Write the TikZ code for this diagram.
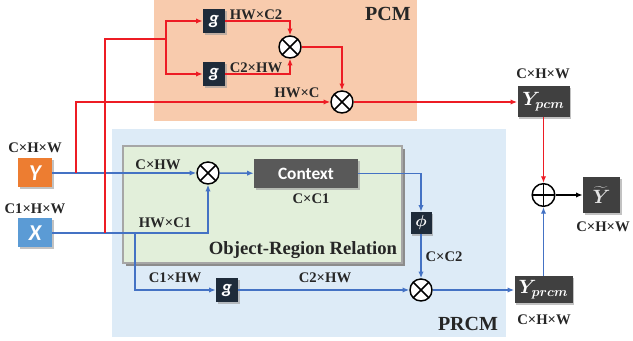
\documentclass[tikz,border=0pt]{standalone}
\usepackage{fontspec}
\setmainfont{Liberation Serif}
\newfontfamily\calib{Carlito}
\usepackage{bm}
\usetikzlibrary{arrows.meta,shadows,calc}
\definecolor{pcmfill}{HTML}{F8CBAD}
\definecolor{prcmfill}{HTML}{DDEBF7}
\definecolor{orrfill}{HTML}{E2EFDA}
\definecolor{orrdraw}{HTML}{A6A6A6}
\definecolor{redc}{HTML}{ED1C24}
\definecolor{bluec}{HTML}{4472C4}
\definecolor{yorange}{HTML}{ED7D31}
\definecolor{xblue}{HTML}{5B9BD5}
\definecolor{gfill}{HTML}{1E2B3A}
\definecolor{ctxfill}{HTML}{595959}
\definecolor{yfill}{HTML}{404040}
\begin{document}
\begin{tikzpicture}[x=0.75pt,y=-0.75pt,
  lbl/.style={font=\fontsize{11}{12}\selectfont\bfseries, inner sep=0pt, text=black!85},
  biglbl/.style={font=\fontsize{15}{16}\selectfont\bfseries, inner sep=0pt, text=black!85},
  conn/.style={line width=1.2pt, -{Latex[length=5pt,width=4pt]}},
  redarr/.style={conn, draw=redc},
  bluearr/.style={conn, draw=bluec},
  redline/.style={line width=1.2pt, draw=redc},
  shad/.style={drop shadow={shadow xshift=1.2pt,shadow yshift=-1.2pt,fill=black!40,opacity=0.6}},
  mul/.style={circle, draw=black, line width=1.1pt, fill=white, minimum size=16.5pt, inner sep=0pt,
    path picture={\draw[line width=1.1pt] (path picture bounding box.north west) -- (path picture bounding box.south east)
      (path picture bounding box.north east) -- (path picture bounding box.south west);}},
  addc/.style={circle, draw=black, line width=1.1pt, fill=white, minimum size=17pt, inner sep=0pt,
    path picture={\draw[line width=1.1pt] (path picture bounding box.north) -- (path picture bounding box.south)
      (path picture bounding box.east) -- (path picture bounding box.west);}},
  gbox/.style={rectangle, shad, fill=gfill, minimum width=16.5pt, minimum height=18pt, inner sep=0pt, text=white,
    font=\calib\bfseries\itshape\fontsize{14}{14}\selectfont},
  inbox/.style={rectangle, shad, minimum width=25.5pt, minimum height=21.75pt, inner sep=0pt, text=white,
    font=\calib\bfseries\itshape\fontsize{17}{17}\selectfont},
  ybox/.style={rectangle, shad, fill=yfill, inner sep=0pt, text=white, font=\fontsize{14}{16}\selectfont\boldmath},
  region/.style={rectangle, inner sep=0pt, draw=none}
]
\useasboundingbox (0,0) rectangle (633,341);
% regions
\node[region, fill=pcmfill, minimum width=197.25pt, minimum height=90.75pt] (pcm) at (285.5,60.5) {};
\node[region, fill=prcmfill, minimum width=295.5pt, minimum height=156pt] (prcm) at (309,233) {};
\fill[black!45] (126,149) rectangle (405,266);
\node[rectangle, fill=orrfill, draw=orrdraw, line width=1.5pt, minimum width=209.25pt, minimum height=87.75pt, inner sep=0pt] (orr) at (262.5,204.5) {};
\node[biglbl] (pcmlbl) at (388,14) {PCM};
\node[biglbl] (prcmlbl) at (468,324) {PRCM};
\node[font=\fontsize{14}{15}\selectfont\bfseries, inner sep=0pt, text=black!85] (orrlbl) at (303,250) {Object-Region Relation};
% nodes
\node[gbox] (g1) at (214,21) {g};
\node[gbox] (g2) at (214,74) {g};
\node[mul] (m1) at (290,47) {};
\node[mul] (m2) at (342,102) {};
\node[ybox, minimum width=39pt, minimum height=23.25pt] (Ypcm) at (543.5,101.5) {$Y_{pcm}$};
\node[inbox, fill=yorange] (Y) at (35,173) {Y};
\node[inbox, fill=xblue] (X) at (35,233) {X};
\node[mul] (m3) at (208,173) {};
\node[rectangle, shad, fill=ctxfill, minimum width=78pt, minimum height=21.75pt, inner sep=0pt, text=white,
  font=\calib\bfseries\fontsize{13}{13}\selectfont] (ctx) at (306,173.5) {Context};
\node[gbox, minimum width=15.75pt, minimum height=16.5pt, font=\fontsize{12}{12}\selectfont] (phi) at (421,223) {$\bm{\phi}$};
\node[gbox] (g3) at (227,290) {g};
\node[mul] (m4) at (421,290) {};
\node[ybox, minimum width=43.5pt, minimum height=20.25pt] (Yprcm) at (543.5,289.5) {$Y_{prcm}$};
\node[addc] (add) at (543.5,195) {};
\node[ybox, minimum width=27.75pt, minimum height=27pt, text=black!10] (Yt) at (601.5,195) {$\widetilde{Y}$};
% branch points
\coordinate (r1) at (76,173);
\coordinate (r2) at (105,233);
\coordinate (r3) at (166,39);
\coordinate (b1) at (135,233);
% blue connectors
\draw[bluearr] (Y) -- (m3);
\draw[bluearr] (m3) -- (ctx);
\draw[bluearr] (X) -| (m3);
\draw[bluearr] (b1) |- (g3);
\draw[bluearr] (g3) -- (m4);
\draw[bluearr] (ctx) -| (phi);
\draw[bluearr] (phi) -- (m4);
\draw[bluearr] (m4) -- (Yprcm.west |- m4);
\draw[bluearr] (Yprcm) -- (add);
\draw[conn, draw=black] (add) -- (Yt);
% red connectors
\draw[redarr] (r1) |- (m2);
\draw[redline] (r2) |- (r3);
\draw[redarr] (r3) |- (g1);
\draw[redarr] (r3) |- (g2);
\draw[redarr] (g1) -| (m1);
\draw[redarr] (g2) -| (m1);
\draw[redarr] (m1) -| (m2);
\draw[redarr] (m2) -- (Ypcm.west |- m2);
\draw[redarr] (Ypcm) -- (add);
% labels
\node[lbl] (l1) at (256,15) {HW×C2};
\node[lbl] (l2) at (256,68) {C2×HW};
\node[lbl] (l3) at (297,93) {HW×C};
\node[lbl] (l4) at (543,74) {C×H×W};
\node[lbl] (l5) at (35,148) {C×H×W};
\node[lbl] (l6) at (35,209) {C1×H×W};
\node[lbl] (l7) at (158,165) {C×HW};
\node[lbl] (l8) at (165,223) {HW×C1};
\node[lbl] (l9) at (311,199) {C×C1};
\node[lbl] (l10) at (444,257) {C×C2};
\node[lbl] (l11) at (175,278) {C1×HW};
\node[lbl] (l12) at (325,278) {C2×HW};
\node[lbl] (l13) at (544,320) {C×H×W};
\node[lbl] (l14) at (603,227) {C×H×W};
\end{tikzpicture}
\end{document}
